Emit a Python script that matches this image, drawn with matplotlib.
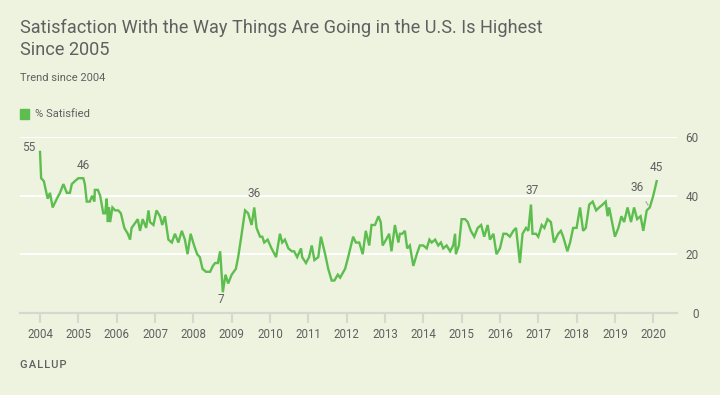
import matplotlib
matplotlib.use("Agg")
import matplotlib.pyplot as plt

# ---------------- data ----------------
dates = [
    2004.00, 2004.03, 2004.10, 2004.20, 2004.26, 2004.33, 2004.44, 2004.52, 2004.61, 2004.70, 2004.78, 2004.83, 2004.91,
    2005.00, 2005.13, 2005.17, 2005.22, 2005.30, 2005.36, 2005.42, 2005.43, 2005.51, 2005.57, 2005.65, 2005.70, 2005.74,
    2005.77, 2005.80, 2005.83, 2005.89, 2005.96,
    2006.04, 2006.11, 2006.20, 2006.29, 2006.35, 2006.39, 2006.50, 2006.55, 2006.61, 2006.68, 2006.77, 2006.83, 2006.87, 2006.96,
    2007.04, 2007.13, 2007.19, 2007.26, 2007.35, 2007.44, 2007.52, 2007.61, 2007.70, 2007.78, 2007.85, 2007.93,
    2008.02, 2008.10, 2008.17, 2008.24, 2008.33, 2008.44, 2008.51, 2008.57, 2008.64, 2008.70, 2008.77, 2008.84, 2008.91,
    2009.00, 2009.11, 2009.17, 2009.24, 2009.35, 2009.43, 2009.52, 2009.59, 2009.65, 2009.74, 2009.80, 2009.85, 2009.94,
    2010.04, 2010.16, 2010.26, 2010.32, 2010.39, 2010.48, 2010.57, 2010.63, 2010.71, 2010.81, 2010.84, 2010.94,
    2011.02, 2011.09, 2011.16, 2011.26, 2011.33, 2011.44, 2011.52, 2011.61, 2011.68, 2011.77, 2011.83, 2011.96,
    2012.04, 2012.17, 2012.24, 2012.33, 2012.42, 2012.50, 2012.59, 2012.65, 2012.74, 2012.83, 2012.89, 2012.94,
    2013.03, 2013.11, 2013.17, 2013.26, 2013.35, 2013.39, 2013.45, 2013.52, 2013.58, 2013.65, 2013.74, 2013.83, 2013.91,
    2014.00, 2014.09, 2014.16, 2014.22, 2014.31, 2014.39, 2014.46, 2014.52, 2014.61, 2014.70, 2014.78, 2014.83, 2014.85, 2014.93,
    2015.00, 2015.09, 2015.16, 2015.24, 2015.33, 2015.42, 2015.51, 2015.59, 2015.68, 2015.74, 2015.83, 2015.91,
    2016.00, 2016.09, 2016.17, 2016.26, 2016.35, 2016.42, 2016.52, 2016.59, 2016.68, 2016.74, 2016.81, 2016.85, 2016.94,
    2017.00, 2017.09, 2017.16, 2017.24, 2017.33, 2017.41, 2017.52, 2017.59, 2017.65, 2017.76, 2017.83, 2017.91,
    2018.00, 2018.09, 2018.17, 2018.24, 2018.33, 2018.42, 2018.51, 2018.59, 2018.68, 2018.76, 2018.81, 2018.85, 2018.91,
    2019.00, 2019.09, 2019.17, 2019.24, 2019.33, 2019.42, 2019.50, 2019.58, 2019.67, 2019.74, 2019.83, 2019.91,
    2020.00, 2020.09,
]
satisfied = [
    55, 46, 45, 39, 41, 36, 39, 41, 44, 41, 41, 44, 45,
    46, 46, 44, 38, 38, 40, 38, 42, 42, 40, 34, 34, 39,
    31, 36, 31, 36, 35,
    35, 34, 29, 27, 25, 29, 31, 32, 28, 32, 29, 35, 31, 30,
    35, 33, 30, 33, 25, 24, 27, 24, 28, 25, 20, 27,
    23, 20, 19, 15, 14, 14, 16, 17, 17, 21, 7, 13, 10,
    13, 15, 19, 25, 35, 34, 30, 36, 29, 26, 26, 24, 25,
    22, 19, 27, 24, 25, 22, 21, 21, 19, 22, 19, 17,
    19, 23, 18, 19, 26, 20, 15, 11, 11, 13, 12, 15,
    19, 26, 24, 24, 20, 28, 23, 30, 30, 33, 31, 23,
    25, 27, 21, 30, 24, 27, 27, 28, 22, 23, 16, 20, 23,
    23, 22, 25, 24, 25, 23, 24, 22, 23, 21, 23, 27, 20, 23,
    32, 32, 31, 28, 26, 29, 30, 26, 30, 25, 27, 20,
    22, 27, 27, 26, 28, 29, 17, 27, 29, 28, 37, 27, 27,
    26, 30, 29, 32, 31, 24, 27, 28, 26, 21, 24, 29,
    29, 36, 28, 29, 37, 38, 35, 36, 37, 38, 33, 36, 32,
    26, 29, 33, 31, 36, 31, 36, 32, 33, 28, 35, 36,
    40, 45,
]
year_ticks = list(range(2004, 2021))
y_ticks = [0, 20, 40, 60]
series_name = "% Satisfied"

# labels: (date, value, text, dx_pt, dy_pt)
label_points = [
    (2004.00, 55, "55", -8, 3.4),
    (2005.07, 46, "46", 1.5, 9.5),
    (2009.59, 36, "36", 0, 10),
    (2008.77, 7, "7", -1.2, -5.5),
    (2016.81, 37, "37", 0.8, 10),
    (2020.09, 45, "45", 0, 10),
]

# ---------------- style ----------------
BG = "#EDF3DF"
GREEN = "#5DBE4F"
TXT = "#606060"
AX_GRAY = "#D5D8CC"
FONT = ["Roboto", "DejaVu Sans"]
plt.rcParams["font.family"] = FONT

fig = plt.figure(figsize=(7.2, 3.95), dpi=100, facecolor=BG)
ax = fig.add_axes([20 / 720, 1 - 312.7 / 395, 657 / 720, (312.7 - 137.3) / 395])
ax.set_facecolor(BG)

ax.plot(dates, satisfied, color=GREEN, lw=1.7, solid_joinstyle="miter", clip_on=False, zorder=3)

ax.set_xlim(2003.478, 2020.62)
ax.set_ylim(0, 60)

for s in ["top", "right", "left"]:
    ax.spines[s].set_visible(False)
ax.spines["bottom"].set_color(AX_GRAY)
ax.spines["bottom"].set_linewidth(1.6)

ax.set_yticks(y_ticks)
ax.yaxis.tick_right()
ax.tick_params(axis="y", length=0, pad=15.5, labelsize=8.5, labelcolor=TXT)
for lab in ax.get_yticklabels():
    lab.set_horizontalalignment("right")
ax.grid(axis="y", color="white", lw=1.4)
ax.set_axisbelow(True)

ax.set_xticks(year_ticks)
ax.set_xticklabels([str(y) for y in year_ticks])
ax.tick_params(axis="x", length=7.5, width=1.5, color=AX_GRAY, pad=3.5,
               labelsize=8.3, labelcolor=TXT)

for d, v, t, dx, dy in label_points:
    ax.annotate(t, xy=(d, v), xytext=(dx, dy), textcoords="offset points",
                ha="center", va="center", fontsize=8.5, color=TXT, zorder=4)

# 2019 label with dotted leader
ax.annotate("36", xy=(2019.89, 36.3), xytext=(-8.5, 13.5), textcoords="offset points",
            ha="center", va="center", fontsize=8.5, color=TXT,
            arrowprops=dict(arrowstyle="-", color="#A0A0A0", lw=0.9, ls=(0, (1, 1)),
                            shrinkA=4, shrinkB=1))

# titles
fig.text(20 / 720, 1 - 28 / 395, "Satisfaction With the Way Things Are Going in the U.S. Is Highest",
         fontsize=13.1, color=TXT, va="center", ha="left")
fig.text(20 / 720, 1 - 50 / 395, "Since 2005", fontsize=13.1, color=TXT, va="center", ha="left")
fig.text(20 / 720, 1 - 78 / 395, "Trend since 2004", fontsize=8, color=TXT, va="center", ha="left")

# legend
fig.patches.append(plt.Rectangle((20 / 720, 1 - 119 / 395), 9 / 720, 10 / 395,
                                 transform=fig.transFigure, color=GREEN, figure=fig))
fig.text(35 / 720, 1 - 114 / 395, series_name, fontsize=8.1, color=TXT, va="center", ha="left")

# source, letter-spaced
fig.text(20 / 720, 1 - 365 / 395, "\u200a".join("GALLUP"),
         fontsize=8, color=TXT, va="center", ha="left", fontweight="medium")

fig.savefig("out.png", dpi=100, facecolor=BG)
